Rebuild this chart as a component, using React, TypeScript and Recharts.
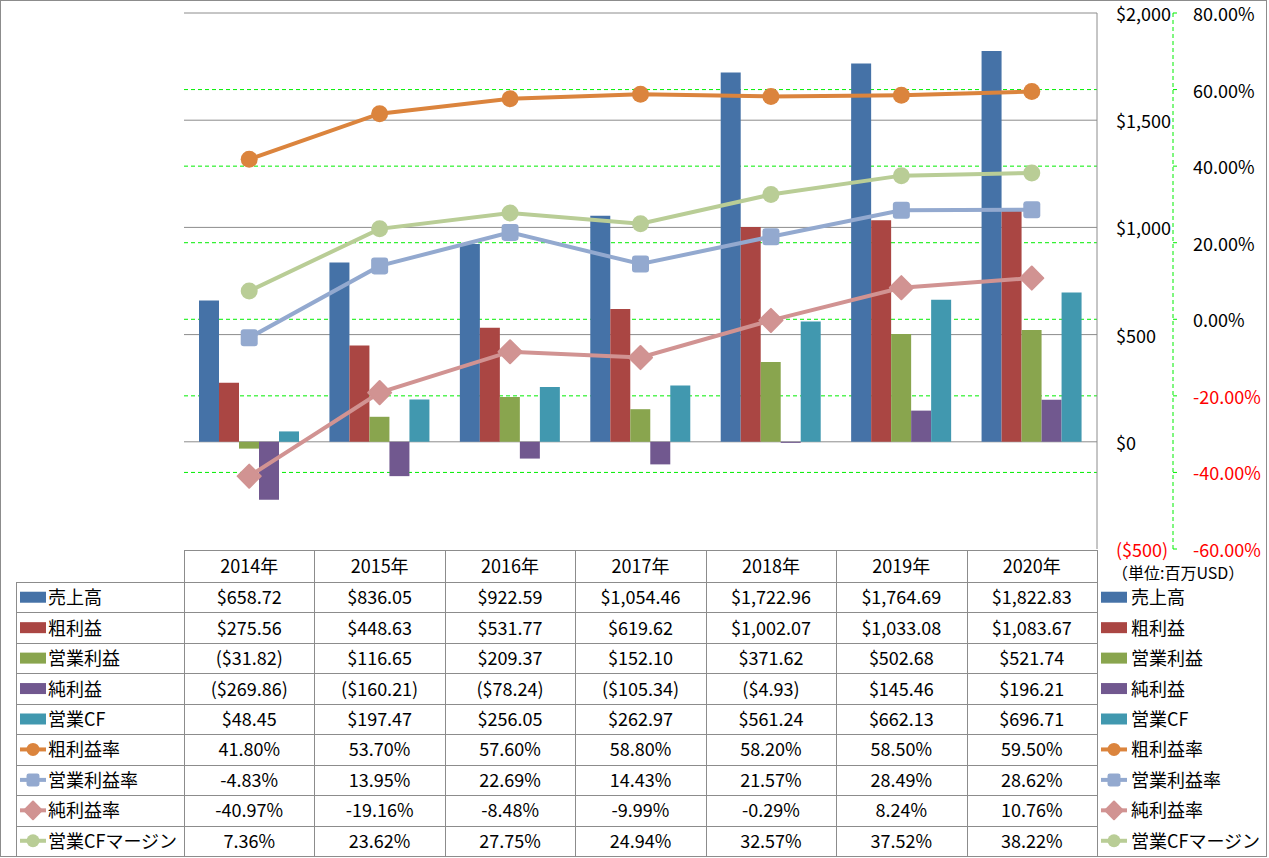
import React from 'react';
import { ComposedChart, Bar, Line, XAxis, YAxis, CartesianGrid } from 'recharts';

// ---------- data ----------
const years = ['2014年', '2015年', '2016年', '2017年', '2018年', '2019年', '2020年'];
const sales = [658.72, 836.05, 922.59, 1054.46, 1722.96, 1764.69, 1822.83];
const grossProfit = [275.56, 448.63, 531.77, 619.62, 1002.07, 1033.08, 1083.67];
const operatingIncome = [-31.82, 116.65, 209.37, 152.1, 371.62, 502.68, 521.74];
const netIncome = [-269.86, -160.21, -78.24, -105.34, -4.93, 145.46, 196.21];
const operatingCF = [48.45, 197.47, 256.05, 262.97, 561.24, 662.13, 696.71];
const grossMargin = [41.8, 53.7, 57.6, 58.8, 58.2, 58.5, 59.5];
const operatingMargin = [-4.83, 13.95, 22.69, 14.43, 21.57, 28.49, 28.62];
const netMargin = [-40.97, -19.16, -8.48, -9.99, -0.29, 8.24, 10.76];
const cfMargin = [7.36, 23.62, 27.75, 24.94, 32.57, 37.52, 38.22];
const usdTicks = [-500, 0, 500, 1000, 1500, 2000];
const pctTicks = [-60, -40, -20, 0, 20, 40, 60, 80];
const usdGridValues = [0, 500, 1000, 1500, 2000];
const pctGridValues = [-40, -20, 0, 20, 40, 60];
const unitLabel = '（単位:百万USD）';

type Kind = 'bar' | 'line';
type Shape = 'rect' | 'circle' | 'square' | 'diamond';
interface Series { key: string; name: string; color: string; kind: Kind; shape: Shape; values: number[]; pct: boolean; }

const series: Series[] = [
  { key: 'sales', name: '売上高', color: '#4572A7', kind: 'bar', shape: 'rect', values: sales, pct: false },
  { key: 'gross', name: '粗利益', color: '#AA4643', kind: 'bar', shape: 'rect', values: grossProfit, pct: false },
  { key: 'op', name: '営業利益', color: '#89A54E', kind: 'bar', shape: 'rect', values: operatingIncome, pct: false },
  { key: 'net', name: '純利益', color: '#71588F', kind: 'bar', shape: 'rect', values: netIncome, pct: false },
  { key: 'cf', name: '営業CF', color: '#4198AF', kind: 'bar', shape: 'rect', values: operatingCF, pct: false },
  { key: 'gm', name: '粗利益率', color: '#DB843D', kind: 'line', shape: 'circle', values: grossMargin, pct: true },
  { key: 'om', name: '営業利益率', color: '#93A9CF', kind: 'line', shape: 'square', values: operatingMargin, pct: true },
  { key: 'nm', name: '純利益率', color: '#D19392', kind: 'line', shape: 'diamond', values: netMargin, pct: true },
  { key: 'cfm', name: '営業CFマージン', color: '#B9CD96', kind: 'line', shape: 'circle', values: cfMargin, pct: true },
];

const data = years.map((year, i) => {
  const row: Record<string, string | number> = { year };
  series.forEach((s) => { row[s.key] = s.values[i]; });
  return row;
});

// ---------- layout ----------
const W = 1269;
const H = 858;
const PLOT_LEFT = 184;
const PLOT_TOP = 13;
const PLOT_RIGHT = 1097;
const TABLE_TOP = 550;
const HEADER_BOTTOM = 582;
const TABLE_BOTTOM = 856;
const ROW_H = (TABLE_BOTTOM - HEADER_BOTTOM) / series.length;
const HALF_BAND = (PLOT_RIGHT - PLOT_LEFT) / years.length / 2;
const FONT = "'Noto Sans CJK JP', 'Noto Sans', sans-serif";
const LINE_COLOR = '#8C8C8C';
const GREEN = '#00EE00';
const FS = 18;
const USD = 'a_usd';
const PCT = 'b_pct';

const fmtMoney = (v: number) => {
  const s = Math.abs(v).toLocaleString('en-US', { minimumFractionDigits: 2, maximumFractionDigits: 2 });
  return v < 0 ? `($${s})` : `$${s}`;
};
const fmtPct = (v: number) => `${v.toFixed(2)}%`;
const fmtUsdTick = (v: number) => {
  const s = Math.abs(v).toLocaleString('en-US');
  return v < 0 ? `($${s})` : `$${s}`;
};

const px = (v: number) => Math.round(v) + 0.5;

// ---------- markers ----------
function Marker({ shape, color, cx, cy, size }: { shape: Shape; color: string; cx: number; cy: number; size: number }) {
  if (shape === 'circle') return <circle cx={cx} cy={cy} r={size / 2} fill={color} />;
  if (shape === 'square')
    return <rect x={cx - size / 2} y={cy - size / 2} width={size} height={size} rx={size * 0.18} fill={color} />;
  if (shape === 'diamond') {
    const d = size * 0.68;
    return <polygon points={`${cx},${cy - d} ${cx + d},${cy} ${cx},${cy + d} ${cx - d},${cy}`} fill={color} stroke={color} strokeWidth={2} strokeLinejoin="round" />;
  }
  return null;
}

const makeDot = (s: Series) => (props: any) => {
  const { cx, cy, index } = props;
  if (cx == null || cy == null) return <g key={index} />;
  return <Marker key={`${s.key}-${index}`} shape={s.shape} color={s.color} cx={cx} cy={cy} size={17} />;
};

function LegendKey({ s, x, cy }: { s: Series; x: number; cy: number }) {
  if (s.kind === 'bar') return <rect x={x} y={cy - 5.5} width={26} height={11} fill={s.color} />;
  return (
    <g>
      <line x1={x} y1={cy} x2={x + 26} y2={cy} stroke={s.color} strokeWidth={4} />
      <Marker shape={s.shape} color={s.color} cx={x + 13} cy={cy} size={13} />
    </g>
  );
}

// ---------- ticks ----------
const UsdTick = (props: any) => {
  const { y, payload } = props;
  const v = payload.value as number;
  return (
    <text x={1116} y={y} fill={v < 0 ? '#FF0000' : '#000'} fontSize={FS} fontFamily={FONT} textAnchor="start" dominantBaseline="central">
      {fmtUsdTick(v)}
    </text>
  );
};

const PctTick = (props: any) => {
  const { y, payload } = props;
  const v = payload.value as number;
  return (
    <text x={1193} y={y} fill={v < 0 ? '#FF0000' : '#000'} fontSize={FS} fontFamily={FONT} textAnchor="start" dominantBaseline="central">
      {fmtPct(v)}
    </text>
  );
};

const TableTick = (props: any) => {
  const { x, payload } = props;
  const i = years.indexOf(payload.value);
  if (i < 0) return <g />;
  const l = px(x - HALF_BAND);
  const r = px(x + HALF_BAND);
  const lines: React.ReactNode[] = [];
  lines.push(<line key="top" x1={l} x2={r} y1={px(TABLE_TOP)} y2={px(TABLE_TOP)} stroke={LINE_COLOR} />);
  lines.push(<line key="l" x1={l} x2={l} y1={TABLE_TOP} y2={TABLE_BOTTOM} stroke={LINE_COLOR} />);
  lines.push(<line key="r" x1={r} x2={r} y1={TABLE_TOP} y2={TABLE_BOTTOM} stroke={LINE_COLOR} />);
  for (let k = 0; k <= series.length; k++) {
    const yy = px(HEADER_BOTTOM + k * ROW_H);
    lines.push(<line key={`h${k}`} x1={l} x2={r} y1={yy} y2={yy} stroke={LINE_COLOR} />);
  }
  return (
    <g>
      {lines}
      <text x={x} y={(TABLE_TOP + HEADER_BOTTOM) / 2 - 1} textAnchor="middle" dominantBaseline="central" fontSize={FS} fontFamily={FONT} fill="#000">
        {years[i]}
      </text>
      {series.map((s, k) => (
        <text key={s.key} x={x} y={HEADER_BOTTOM + (k + 0.5) * ROW_H - 1} textAnchor="middle" dominantBaseline="central" fontSize={FS} fontFamily={FONT} fill="#000">
          {s.pct ? fmtPct(s.values[i]) : fmtMoney(s.values[i])}
        </text>
      ))}
    </g>
  );
};

// ---------- overlay (row labels, legend, frame) ----------
function Overlay() {
  return (
    <svg width={W} height={H} style={{ position: 'absolute', left: 0, top: 0, pointerEvents: 'none' }}>
      <rect x={0.5} y={0.5} width={1266} height={856} fill="none" stroke={LINE_COLOR} />
      <line x1={16.5} x2={16.5} y1={HEADER_BOTTOM} y2={TABLE_BOTTOM} stroke={LINE_COLOR} />
      {series.map((s, k) => {
        const yy = px(HEADER_BOTTOM + k * ROW_H);
        const cy = HEADER_BOTTOM + (k + 0.5) * ROW_H;
        return (
          <g key={s.key}>
            <line x1={16} x2={PLOT_LEFT} y1={yy} y2={yy} stroke={LINE_COLOR} />
            <LegendKey s={s} x={20} cy={cy} />
            <text x={48} y={cy - 1} fontSize={FS} fontFamily={FONT} dominantBaseline="central" fill="#000">{s.name}</text>
            <LegendKey s={s} x={1101} cy={cy} />
            <text x={1131} y={cy - 1} fontSize={FS} fontFamily={FONT} dominantBaseline="central" fill="#000">{s.name}</text>
          </g>
        );
      })}
      <text x={1112} y={572} fontSize={16} fontFamily={FONT} dominantBaseline="central" fill="#000">{unitLabel}</text>
    </svg>
  );
}

export default function App() {
  return (
    <div style={{ position: 'absolute', left: 0, top: 0, width: W, height: H, background: '#fff', fontFamily: FONT }}>
      <ComposedChart width={W} height={H} data={data} margin={{ top: PLOT_TOP, right: 0, bottom: 0, left: PLOT_LEFT }} barGap={0} barSize={20}>
        <CartesianGrid yAxisId={PCT} horizontal vertical={false} horizontalValues={pctGridValues} stroke={GREEN} strokeDasharray="4 3" />
        <CartesianGrid yAxisId={USD} horizontal vertical={false} horizontalValues={usdGridValues} stroke={LINE_COLOR} />
        <XAxis dataKey="year" interval={0} height={H - 549} tickLine={false} axisLine={false} tickSize={0} tickMargin={0} tick={TableTick} />
        <YAxis yAxisId={USD} orientation="right" width={76} domain={[-500, 2000]} ticks={usdTicks} tickLine={false} tickSize={0} tickMargin={0} axisLine={{ stroke: LINE_COLOR }} tick={UsdTick} interval={0} />
        <YAxis yAxisId={PCT} orientation="right" width={96} domain={[-60, 80]} ticks={pctTicks} tickSize={4} tickMargin={0} tickLine={{ stroke: GREEN }} axisLine={{ stroke: GREEN, strokeDasharray: '4 3' }} tick={PctTick} interval={0} />
        {series.filter((s) => s.kind === 'bar').map((s) => (
          <Bar key={s.key} yAxisId={USD} dataKey={s.key} name={s.name} fill={s.color} isAnimationActive={false} />
        ))}
        {series.filter((s) => s.kind === 'line').map((s) => (
          <Line key={s.key} yAxisId={PCT} type="linear" dataKey={s.key} name={s.name} stroke={s.color} strokeWidth={4} dot={makeDot(s)} activeDot={false} isAnimationActive={false} />
        ))}
      </ComposedChart>
      <Overlay />
    </div>
  );
}
